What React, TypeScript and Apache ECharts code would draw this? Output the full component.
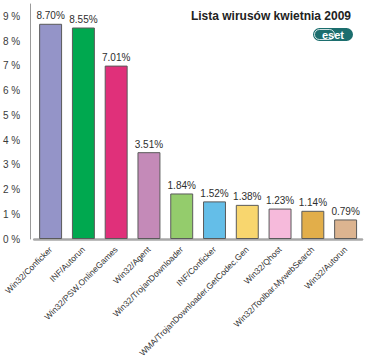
import React, { useEffect, useRef } from "react";
import * as echarts from "echarts";

const categories = [
  "Win32/Conficker",
  "INF/Autorun",
  "Win32/PSW.OnlineGames",
  "Win32/Agent",
  "Win32/TrojanDownloader",
  "INF/Conficker",
  "WMA/TrojanDownloader.GetCodec.Gen",
  "Win32/Qhost",
  "Win32/Toolbar.MywebSearch",
  "Win32/Autorun",
];
const values = [8.7, 8.55, 7.01, 3.51, 1.84, 1.52, 1.38, 1.23, 1.14, 0.79];
const barColors = [
  "#9494c8",
  "#00a84f",
  "#e0307a",
  "#c48ab8",
  "#94cc6c",
  "#64bee8",
  "#f8d66e",
  "#f6badb",
  "#e2ae4a",
  "#dcb490",
];
const title = "Lista wirusów kwietnia 2009";

export default function App() {
  const ref = useRef<HTMLDivElement>(null);
  useEffect(() => {
    if (!ref.current) return;
    const chart = echarts.init(ref.current, undefined, { renderer: "svg" });
    chart.setOption({
      animation: false,
      backgroundColor: "#ffffff",
      grid: { left: 34, right: 6, top: 4, bottom: 121, containLabel: false },
      xAxis: {
        type: "category",
        data: categories,
        axisLine: { lineStyle: { color: "#a8a8a8", width: 2.5 } },
        axisTick: { show: false },
        axisLabel: {
          interval: 0,
          rotate: 45,
          fontSize: 8.5,
          color: "#333333",
          fontFamily: "Liberation Sans, Arial, sans-serif",
          margin: 9,
        },
      },
      yAxis: {
        type: "value",
        min: 0,
        max: 9.5,
        interval: 1,
        offset: 4,
        splitLine: { show: false },
        axisLine: { show: true, lineStyle: { color: "#9a9a9a", width: 1 } },
        axisTick: { show: false },
        axisLabel: {
          fontSize: 10,
          color: "#3a3a3a",
          fontFamily: "Liberation Sans, Arial, sans-serif",
          margin: 10,
          formatter: (v: number) => (Number.isInteger(v) ? v + " %" : ""),
        },
      },
      series: [
        {
          type: "bar",
          data: values.map((v, i) => ({
            value: v,
            itemStyle: { color: barColors[i] },
          })),
          barWidth: "70%",
          itemStyle: { borderColor: "#5a5a5a", borderWidth: 1 },
          label: {
            show: true,
            position: "top",
            distance: 3,
            fontSize: 10,
            color: "#2e2e2e",
            fontFamily: "Liberation Sans, Arial, sans-serif",
            formatter: (p: any) => p.value.toFixed(2) + "%",
          },
        },
      ],
      graphic: [
        {
          type: "text",
          right: 17,
          top: 10,
          style: {
            text: title,
            fontSize: 12,
            fontWeight: "bold",
            fill: "#222222",
            fontFamily: "Liberation Sans, Arial, sans-serif",
          },
        },
        {
          type: "group",
          left: 312,
          top: 27,
          children: [
            {
              type: "rect",
              shape: { x: 0, y: 0, width: 40, height: 13, r: 6.5 },
              style: { fill: "#1c6e6e" },
            },
            {
              type: "rect",
              shape: { x: 1.5, y: 1.5, width: 20, height: 10, r: 5 },
              style: { fill: "none", stroke: "#ffffff", lineWidth: 0.8 },
            },
            {
              type: "text",
              x: 20,
              y: 6.8,
              style: {
                text: "eset",
                fontSize: 11,
                fontWeight: "bold",
                fill: "#ffffff",
                align: "center",
                verticalAlign: "middle",
                fontFamily: "Liberation Sans, Arial, sans-serif",
              },
            },
          ],
        },
      ],
    });
    return () => chart.dispose();
  }, []);
  return (
    <div
      ref={ref}
      style={{ position: "fixed", left: 0, top: 0, width: 368, height: 360 }}
    />
  );
}
